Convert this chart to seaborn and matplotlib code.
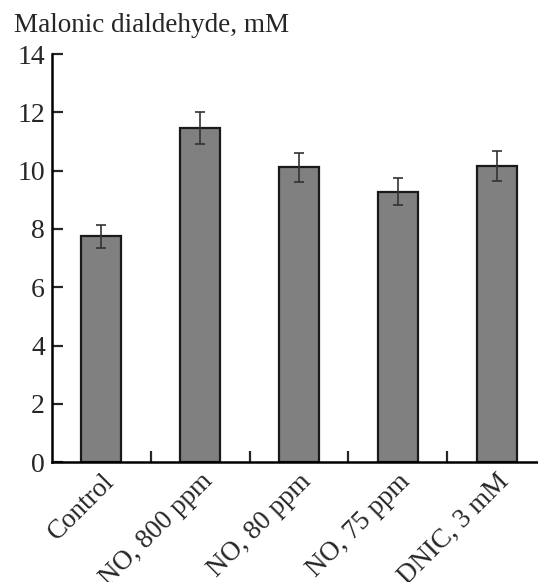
import matplotlib
matplotlib.use("Agg")
import matplotlib.pyplot as plt
import seaborn as sns
import pandas as pd
import numpy as np

categories = ["Control", "NO, 800 ppm", "NO, 80 ppm", "NO, 75 ppm", "DNIC, 3 mM"]
values = [7.75, 11.45, 10.12, 9.28, 10.16]
errors = [0.39, 0.55, 0.5, 0.47, 0.52]
yticks = [0, 2, 4, 6, 8, 10, 12, 14]

sns.set_style("white")
plt.rcParams['font.family'] = ['Liberation Serif', 'DejaVu Serif']

fig = plt.figure(figsize=(5.38, 5.82), dpi=100)
ax = fig.add_axes([0.0967, 0.206, 0.9033, 0.701])

df = pd.DataFrame({"cat": categories, "val": values})
sns.barplot(data=df, x="cat", y="val", ax=ax, color="#808080", saturation=1,
            width=0.405, edgecolor="#1a1a1a", linewidth=1.6, errorbar=None)
ax.errorbar(np.arange(len(categories)), values, yerr=errors, fmt="none",
            ecolor="#333333", elinewidth=1.2, capsize=3.5, capthick=1.2)

ax.set_xlim(-0.5, 4.42)
ax.set_ylim(0, 14)
ax.set_yticks(yticks)
ax.set_xticks(range(len(categories)))
ax.set_xticks(np.arange(0.5, 4, 1), minor=True)
ax.tick_params(axis="x", which="major", length=0, pad=5, bottom=True)
ax.tick_params(axis="x", which="minor", direction="in", length=8, width=1.6, bottom=True)
ax.tick_params(axis="y", direction="in", length=8, width=1.6, labelsize=20, pad=5, left=True)
ax.set_xticklabels(categories, rotation=45, ha="right", rotation_mode="anchor", fontsize=19.5)
ax.set_xlabel("")
ax.set_ylabel("")
for s in ["top", "right"]:
    ax.spines[s].set_visible(False)
for s in ["left", "bottom"]:
    ax.spines[s].set_linewidth(1.8)
    ax.spines[s].set_color("black")

fig.text(0.026, 0.957, "Malonic dialdehyde, mM", fontsize=19.5, ha="left", va="center")

fig.savefig("out.png", dpi=100)
